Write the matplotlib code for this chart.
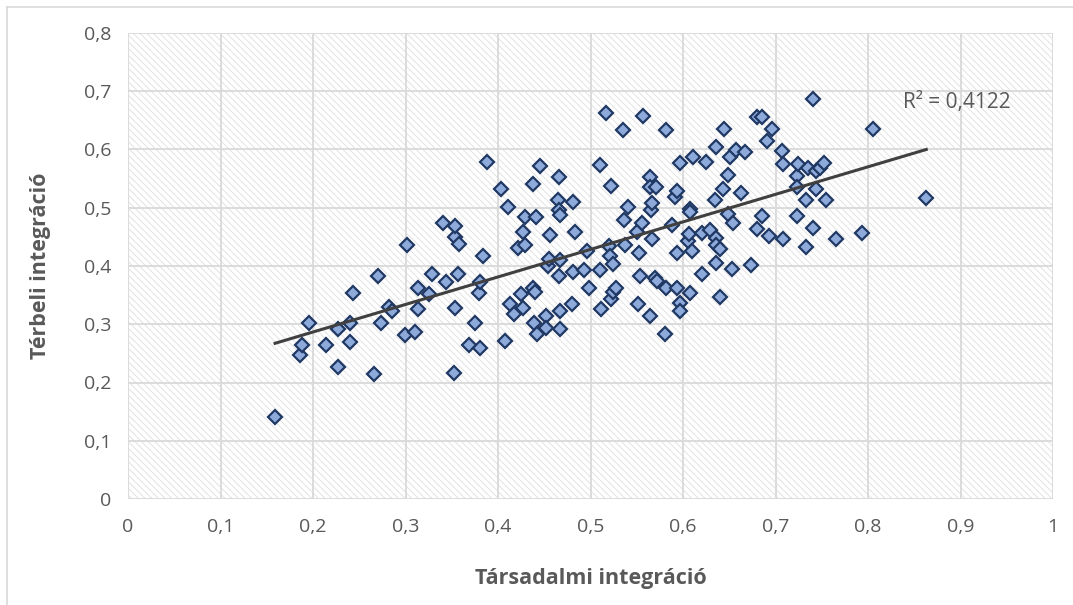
import numpy as np
import matplotlib
matplotlib.use("Agg")
from matplotlib import pyplot as plt
from matplotlib.patches import Rectangle
from matplotlib.ticker import FuncFormatter, MultipleLocator

plt.rcParams['font.family'] = ['Open Sans', 'DejaVu Sans']
plt.rcParams['hatch.linewidth'] = 0.6

FILL = "#8eaadb"   # marker fill
EDGE = "#203864"   # marker edge
TREND = "#404040"
GRID = "#d9d9d9"
TXT = "#595959"

# Társadalmi integráció
tarsadalmi = [
    0.159, 0.186, 0.188, 0.196, 0.214, 0.227, 0.227, 0.240, 0.240, 0.243,
    0.266, 0.270, 0.274, 0.282, 0.285, 0.299, 0.302, 0.310, 0.313, 0.313,
    0.325, 0.329, 0.340, 0.344, 0.352, 0.353, 0.354, 0.354, 0.357, 0.358,
    0.369, 0.375, 0.379, 0.381, 0.381, 0.384, 0.388, 0.403, 0.408, 0.411,
    0.413, 0.417, 0.422, 0.425, 0.427, 0.427, 0.429, 0.429, 0.438, 0.440,
    0.438, 0.439, 0.441, 0.442, 0.445, 0.452, 0.452, 0.454, 0.455, 0.456,
    0.466, 0.465, 0.466, 0.467, 0.467, 0.466, 0.467, 0.467, 0.480, 0.481,
    0.481, 0.483, 0.493, 0.496, 0.498, 0.510, 0.510, 0.511, 0.517, 0.520,
    0.522, 0.521, 0.522, 0.524, 0.528, 0.524, 0.535, 0.536, 0.537, 0.541,
    0.550, 0.551, 0.552, 0.554, 0.556, 0.557, 0.564, 0.564, 0.564, 0.565,
    0.567, 0.567, 0.570, 0.572, 0.571, 0.581, 0.582, 0.582, 0.588, 0.591,
    0.593, 0.594, 0.594, 0.597, 0.597, 0.597, 0.605, 0.607, 0.608, 0.608,
    0.608, 0.610, 0.611, 0.620, 0.620, 0.625, 0.629, 0.635, 0.636, 0.636,
    0.636, 0.636, 0.640, 0.640, 0.643, 0.644, 0.649, 0.649, 0.651, 0.653,
    0.654, 0.657, 0.663, 0.667, 0.674, 0.680, 0.685, 0.680, 0.685, 0.691,
    0.693, 0.696, 0.707, 0.708, 0.708, 0.723, 0.723, 0.723, 0.724, 0.733,
    0.733, 0.735, 0.740, 0.740, 0.744, 0.744, 0.748, 0.752, 0.755, 0.765,
    0.794, 0.805, 0.863,
]
# Térbeli integráció
terbeli = [
    0.140, 0.247, 0.264, 0.302, 0.265, 0.226, 0.292, 0.303, 0.270, 0.354,
    0.214, 0.383, 0.302, 0.329, 0.323, 0.281, 0.436, 0.286, 0.326, 0.363,
    0.352, 0.387, 0.474, 0.373, 0.217, 0.449, 0.469, 0.328, 0.387, 0.438,
    0.264, 0.302, 0.354, 0.373, 0.259, 0.418, 0.579, 0.532, 0.271, 0.502,
    0.335, 0.317, 0.431, 0.352, 0.328, 0.458, 0.484, 0.436, 0.362, 0.356,
    0.541, 0.303, 0.484, 0.284, 0.572, 0.314, 0.293, 0.400, 0.412, 0.454,
    0.553, 0.513, 0.496, 0.488, 0.411, 0.383, 0.323, 0.292, 0.335, 0.510,
    0.390, 0.459, 0.393, 0.425, 0.363, 0.573, 0.393, 0.327, 0.662, 0.434,
    0.538, 0.418, 0.343, 0.356, 0.362, 0.403, 0.633, 0.479, 0.436, 0.502,
    0.459, 0.334, 0.423, 0.383, 0.473, 0.658, 0.553, 0.536, 0.314, 0.496,
    0.509, 0.446, 0.379, 0.375, 0.536, 0.284, 0.633, 0.362, 0.470, 0.518,
    0.529, 0.423, 0.362, 0.577, 0.336, 0.323, 0.443, 0.455, 0.497, 0.492,
    0.353, 0.426, 0.587, 0.456, 0.387, 0.579, 0.462, 0.514, 0.604, 0.448,
    0.436, 0.406, 0.429, 0.346, 0.532, 0.635, 0.557, 0.490, 0.587, 0.394,
    0.473, 0.599, 0.526, 0.595, 0.402, 0.656, 0.656, 0.464, 0.485, 0.615,
    0.452, 0.636, 0.597, 0.575, 0.446, 0.555, 0.536, 0.485, 0.575, 0.514,
    0.432, 0.569, 0.686, 0.465, 0.563, 0.532, 0.568, 0.576, 0.514, 0.446,
    0.456, 0.635, 0.516,
]
r2_label = "R² = 0,4122"

x = np.array(tarsadalmi)
y = np.array(terbeli)

fig = plt.figure(figsize=(10.73, 6.05), dpi=100)
ax = fig.add_axes([128 / 1073, 1 - 499 / 605, 925 / 1073, 466 / 605])

# outer chart border (left / top)
fig.add_artist(plt.Line2D([7 / 1073, 7 / 1073], [0, 1 - 7 / 605], color=GRID, lw=1.2))
fig.add_artist(plt.Line2D([7 / 1073, 1], [1 - 7 / 605, 1 - 7 / 605], color=GRID, lw=1.2))

# hatched plot area
ax.add_patch(Rectangle((0, 0), 1, 1, transform=ax.transAxes, facecolor="white",
                       edgecolor="#dedede", hatch="\\\\\\\\\\", lw=0, zorder=0))

ax.set_xlim(0, 1)
ax.set_ylim(0, 0.8)
ax.xaxis.set_major_locator(MultipleLocator(0.1))
ax.yaxis.set_major_locator(MultipleLocator(0.1))
fmt = FuncFormatter(lambda v, p: ("%g" % round(v, 1)).replace(".", ","))
ax.xaxis.set_major_formatter(fmt)
ax.yaxis.set_major_formatter(fmt)
ax.grid(True, color=GRID, lw=1.3, zorder=1)
ax.set_axisbelow(True)
for s in ax.spines.values():
    s.set_visible(False)
ax.tick_params(length=0, labelsize=14, labelcolor=TXT)
ax.tick_params(axis="x", pad=14)
ax.tick_params(axis="y", pad=12)

ax.plot(x, y, linestyle="none", marker="D", markersize=6.8,
        markerfacecolor=FILL, markeredgecolor=EDGE, markeredgewidth=1.6, zorder=3)

# linear trendline
k, b = np.polyfit(x, y, 1)
xs = np.array([x.min(), x.max()])
ax.plot(xs, k * xs + b, color=TREND, lw=2.2, zorder=4)

ax.text(0.838, 0.68, r2_label, fontsize=15, color=TXT, va="center", ha="left")

ax.set_xlabel("Társadalmi integráció", fontsize=15.5, fontweight="bold", color=TXT)
ax.set_ylabel("Térbeli integráció", fontsize=15.5, fontweight="bold", color=TXT)
ax.xaxis.set_label_coords(0.5, -0.17)
ax.yaxis.set_label_coords(-0.095, 0.5)
ax.yaxis.label.set_va("center")
ax.xaxis.label.set_va("center")

fig.savefig("out.png", dpi=100)
